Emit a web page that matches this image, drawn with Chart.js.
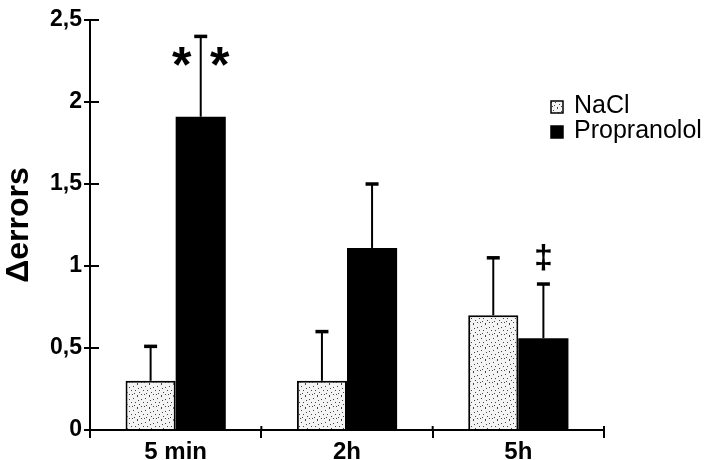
<!DOCTYPE html>
<html>
<head>
<meta charset="utf-8">
<script src="https://cdn.jsdelivr.net/npm/chart.js@4.4.1/dist/chart.umd.min.js"></script>
<style>
  html, body { margin: 0; padding: 0; background: #fff; }
  canvas { display: block; }
</style>
</head>
<body>
<canvas id="errorsChart" width="720" height="460"></canvas>
<script>
// Datos
const categories = ['5 min', '2h', '5h'];
const naclValues = [0.3, 0.3, 0.7];
const naclErrors = [0.21, 0.3, 0.35];
const propValues = [1.91, 1.11, 0.56];
const propErrors = [0.49, 0.39, 0.33];
const propMarks = ['**', '', '‡'];
const yTickLabels = ['0', '0,5', '1', '1,5', '2', '2,5'];

const FONT = "'Liberation Sans', Arial, sans-serif";

// Relleno punteado para NaCl
function makeStipple() {
    const c = document.createElement('canvas');
    c.width = 12; c.height = 12;
    const g = c.getContext('2d');
    g.fillStyle = '#f4f4f4';
    g.fillRect(0, 0, 12, 12);
    g.fillStyle = '#444';
    const dots = [[1,2],[5,0],[9,3],[3,6],[7,8],[11,6],[0,10],[5,11],[9,10],[6,4],[2,9]];
    dots.forEach(d => g.fillRect(d[0], d[1], 1, 1));
    return g.createPattern(c, 'repeat');
}
const stipple = makeStipple();

// Barras de error (sólo hacia arriba)
const errorBars = {
    id: 'errorBars',
    afterDatasetsDraw(chart) {
        const ctx = chart.ctx;
        const y = chart.scales.y;
        const sets = [[naclValues, naclErrors], [propValues, propErrors]];
        ctx.save();
        ctx.strokeStyle = '#000';
        sets.forEach((s, i) => {
            chart.getDatasetMeta(i).data.forEach((el, j) => {
                const top = y.getPixelForValue(s[0][j] + s[1][j]);
                ctx.lineWidth = 2;
                ctx.beginPath();
                ctx.moveTo(el.x, el.y);
                ctx.lineTo(el.x, top);
                ctx.stroke();
                ctx.lineWidth = 3.5;
                ctx.beginPath();
                ctx.moveTo(el.x - 6.5, top);
                ctx.lineTo(el.x + 6.5, top);
                ctx.stroke();
            });
        });
        ctx.restore();
    }
};

// Marcas de significación
const sigMarks = {
    id: 'sigMarks',
    afterDatasetsDraw(chart) {
        const ctx = chart.ctx;
        const y = chart.scales.y;
        ctx.save();
        ctx.fillStyle = '#000';
        ctx.textAlign = 'center';
        ctx.textBaseline = 'alphabetic';
        chart.getDatasetMeta(1).data.forEach((el, j) => {
            const top = y.getPixelForValue(propValues[j] + propErrors[j]);
            if (propMarks[j] === '**') {
                ctx.font = 'bold 50px ' + FONT;
                ctx.fillText('*', el.x - 19, top + 46);
                ctx.fillText('*', el.x + 19, top + 46);
            } else if (propMarks[j]) {
                ctx.font = 'bold 34px ' + FONT;
                ctx.fillText(propMarks[j], el.x, top - 16);
            }
        });
        ctx.restore();
    }
};

// Ticks que cruzan los ejes
const innerTicks = {
    id: 'innerTicks',
    afterDraw(chart) {
        const ctx = chart.ctx;
        const a = chart.chartArea;
        const y = chart.scales.y;
        ctx.save();
        ctx.strokeStyle = '#000';
        ctx.lineWidth = 2;
        y.ticks.forEach((t, i) => {
            const py = y.getPixelForTick(i);
            ctx.beginPath();
            ctx.moveTo(a.left, py);
            ctx.lineTo(a.left + 9, py);
            ctx.stroke();
        });
        const x = chart.scales.x;
        for (let i = 0; i <= categories.length; i++) {
            const px = x.getPixelForValue(i - 0.5);
            ctx.beginPath();
            ctx.moveTo(px, a.bottom - 4);
            ctx.lineTo(px, a.bottom);
            ctx.stroke();
        }
        ctx.restore();
    }
};

// Leyenda dibujada a mano
const sideLegend = {
    id: 'sideLegend',
    afterDraw(chart) {
        const ctx = chart.ctx;
        const left = 551, baselines = [113, 138];
        ctx.save();
        ctx.font = '25px ' + FONT;
        ctx.textBaseline = 'alphabetic';
        ctx.textAlign = 'left';
        chart.data.datasets.forEach((ds, i) => {
            const b = baselines[i];
            ctx.fillStyle = ds.backgroundColor;
            ctx.fillRect(left, b - 12, 12, 12);
            ctx.strokeStyle = '#000';
            ctx.lineWidth = 1.5;
            ctx.strokeRect(left, b - 12, 12, 12);
            ctx.fillStyle = '#000';
            ctx.fillText(ds.label, left + 23, b);
        });
        ctx.restore();
    }
};

function createChart() {
    const ctx = document.getElementById('errorsChart').getContext('2d');
    new Chart(ctx, {
        type: 'bar',
        data: {
            labels: categories,
            datasets: [
                {
                    label: 'NaCl',
                    data: naclValues,
                    backgroundColor: stipple,
                    borderColor: '#000',
                    borderWidth: 2
                },
                {
                    label: 'Propranolol',
                    data: propValues,
                    backgroundColor: '#000',
                    borderColor: '#000',
                    borderWidth: 0
                }
            ]
        },
        options: {
            responsive: false,
            animation: false,
            devicePixelRatio: 1,
            layout: { padding: { left: 0, right: 116, top: 20, bottom: 0 } },
            datasets: { bar: { categoryPercentage: 0.585, barPercentage: 1 } },
            plugins: { legend: { display: false }, tooltip: { enabled: false } },
            scales: {
                x: {
                    afterFit: s => { s.height = 30; },
                    grid: { display: true, drawOnChartArea: false, drawTicks: true, tickLength: 8, color: '#000', lineWidth: 2, offset: true },
                    border: { display: true, color: '#000', width: 2 },
                    ticks: { color: '#000', font: { family: FONT, size: 24, weight: 'bold' }, padding: 0 }
                },
                y: {
                    min: 0,
                    max: 2.5,
                    afterFit: s => { s.width = 90; },
                    grid: { display: true, drawOnChartArea: false, drawTicks: true, tickLength: 6, color: '#000', lineWidth: 2 },
                    border: { display: true, color: '#000', width: 2 },
                    ticks: {
                        stepSize: 0.5,
                        color: '#000',
                        padding: 2,
                        font: { family: FONT, size: 23, weight: 'bold' },
                        callback: (v, i) => yTickLabels[i]
                    },
                    title: {
                        display: true,
                        text: 'Δerrors',
                        color: '#000',
                        font: { family: FONT, size: 32, weight: 'bold' },
                        padding: { top: 0, bottom: 0 }
                    }
                }
            }
        },
        plugins: [errorBars, sigMarks, innerTicks, sideLegend]
    });
}

document.addEventListener('DOMContentLoaded', () => {
    createChart();
});
</script>
</body>
</html>
